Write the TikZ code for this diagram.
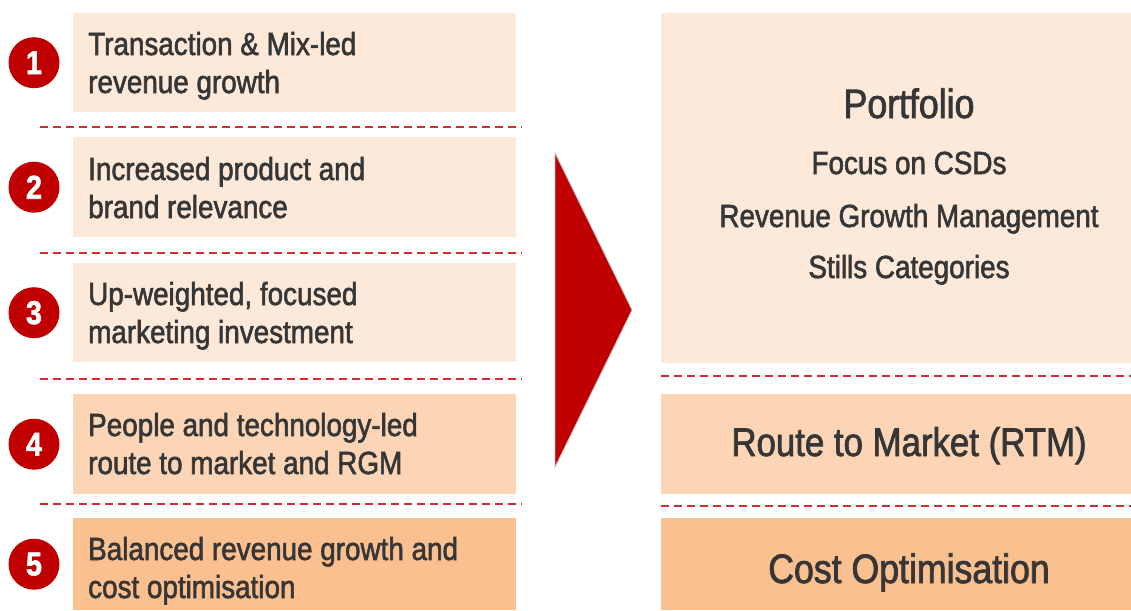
\documentclass[tikz,border=0pt]{standalone}
\usepackage{fontspec}
\setmainfont[FakeStretch=0.87,FakeBold=1.8]{Liberation Sans}
\definecolor{peachlight}{HTML}{FDE9D9}
\definecolor{peachmid}{HTML}{FBD5B5}
\definecolor{peachdark}{HTML}{FAC090}
\definecolor{darkred}{HTML}{C00000}
\definecolor{sepred}{HTML}{D42A32}
\definecolor{textgray}{HTML}{363636}
\begin{document}
\begin{tikzpicture}[x=1pt,y=-1pt,
  box/.style={anchor=north west,inner sep=0pt},
  num/.style={circle,fill=darkred,text=white,minimum size=51pt,inner sep=0pt,
    font=\fontsize{33}{33}\selectfont\bfseries},
  lefttext/.style={anchor=base west,inner sep=0pt,align=left,text=textgray,
    font=\fontsize{32}{38}\selectfont},
  righttext/.style={anchor=base,inner sep=0pt,text=textgray},
  sep/.style={sepred,line width=1.3pt,dash pattern=on 8pt off 5pt}]
\useasboundingbox (0,0) rectangle (1131,610);

% left column: boxes
\node[box,fill=peachlight,minimum width=443pt,minimum height=99pt] (b1) at (73,13) {};
\node[box,fill=peachlight,minimum width=443pt,minimum height=100pt] (b2) at (73,137) {};
\node[box,fill=peachlight,minimum width=443pt,minimum height=99pt] (b3) at (73,263) {};
\node[box,fill=peachmid,minimum width=443pt,minimum height=100pt] (b4) at (73,394) {};
\node[box,fill=peachdark,minimum width=443pt,minimum height=92pt] (b5) at (73,518) {};

% numbers
\node[num] (n1) at ([xshift=-39pt]b1.west) {1};
\node[num] (n2) at ([xshift=-39pt]b2.west) {2};
\node[num] (n3) at ([xshift=-39pt]b3.west) {3};
\node[num] (n4) at ([xshift=-39pt]b4.west) {4};
\node[num] (n5) at ([xshift=-39pt]b5.west) {5};

% base of a two-line node = its last line
\node[lefttext] (t1) at (88,93) {Transaction \& Mix-led\\revenue growth};
\node[lefttext] (t2) at (88,218) {Increased product and\\brand relevance};
\node[lefttext] (t3) at (88,343) {Up-weighted, focused\\marketing investment};
\node[lefttext] (t4) at (88,474) {People and technology-led\\route to market and RGM};
\node[lefttext] (t5) at (88,598) {Balanced revenue growth and\\cost optimisation};

% separators
\draw[sep] (40,127) -- (522,127);
\draw[sep] (40,253) -- (522,253);
\draw[sep] (40,379) -- (522,379);
\draw[sep] (40,504) -- (522,504);
\draw[sep] (661,376) -- (1131,376);
\draw[sep] (661,506) -- (1131,506);

% big arrow
\filldraw[fill=darkred,draw=black!25,line width=0.8pt] (555,153) -- (632,310) -- (555,467) -- cycle;

% right column
\node[box,fill=peachlight,minimum width=470pt,minimum height=350pt] (portfolio) at (661,13) {};
\node[box,fill=peachmid,minimum width=470pt,minimum height=100pt] (rtm) at (661,394) {};
\node[box,fill=peachdark,minimum width=470pt,minimum height=92pt] (cost) at (661,518) {};

\node[righttext,font=\fontsize{41}{41}\selectfont] (p0) at (909,118) {Portfolio};
\node[righttext,font=\fontsize{32}{32}\selectfont] (p1) at (909,174) {Focus on CSDs};
\node[righttext,font=\fontsize{32}{32}\selectfont] (p2) at (909,227) {Revenue Growth Management};
\node[righttext,font=\fontsize{32}{32}\selectfont] (p3) at (909,278) {Stills Categories};
\node[righttext,font=\fontsize{40}{40}\selectfont] (r0) at (909,456) {Route to Market (RTM)};
\node[righttext,font=\fontsize{41}{41}\selectfont] (c0) at (909,583) {Cost Optimisation};
\end{tikzpicture}
\end{document}
